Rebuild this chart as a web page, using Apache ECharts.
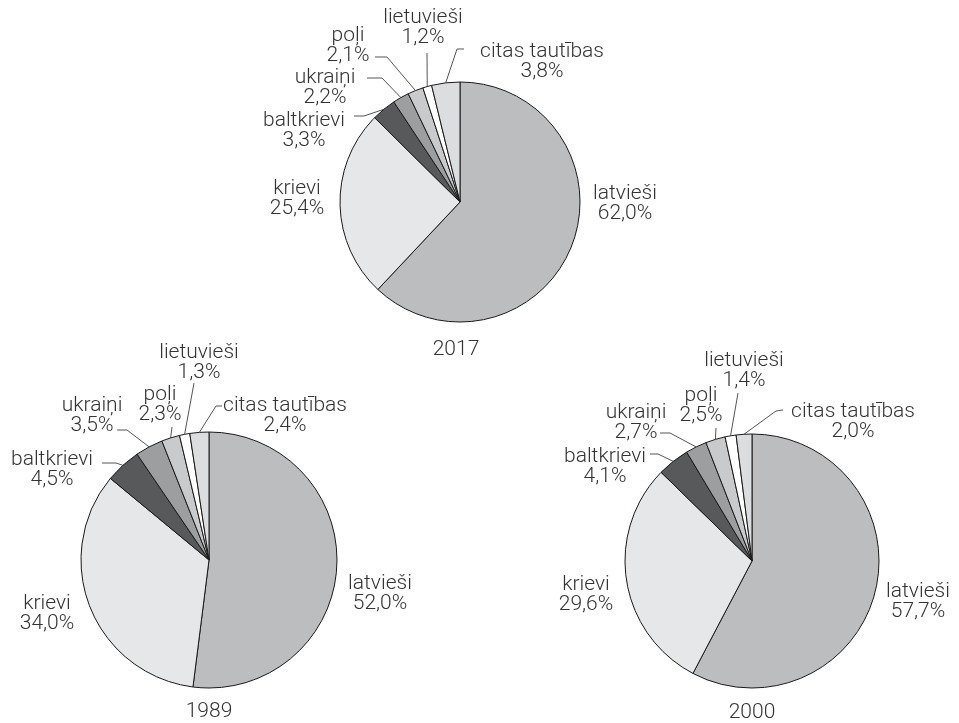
<!DOCTYPE html>
<html>
<head>
<meta charset="utf-8">
<script src="https://cdn.jsdelivr.net/npm/echarts@6/dist/echarts.min.js"></script>
<style>
  html, body { margin: 0; padding: 0; background: #fff; }
  #chart { width: 959px; height: 723px; }
</style>
</head>
<body>
<div id="chart"></div>
<script>
// data
var categories = ['latvieši', 'krievi', 'baltkrievi', 'ukraiņi', 'poļi', 'lietuvieši', 'citas tautības'];
var years = ['2017', '1989', '2000'];
var values2017 = [62.0, 25.4, 3.3, 2.2, 2.1, 1.2, 3.8];
var values1989 = [52.0, 34.0, 4.5, 3.5, 2.3, 1.3, 2.4];
var values2000 = [57.7, 29.6, 4.1, 2.7, 2.5, 1.4, 2.0];

var sliceColors = ['#bcbdbf', '#e6e7e8', '#58595b', '#9d9ea0', '#c9cacc', '#ffffff', '#dcdddf'];
var textColor = '#333333';
var fontFamily = 'Roboto, "Noto Sans", sans-serif';

// layout of each pie: centre, radius, label centres, leader ends [x, y, elbowX, elbowY]
var pieLayouts = [
  {
    values: values2017, center: [460, 202], radius: 120, yearPos: [456, 339],
    labels: [[625, 204], [297, 199], [304, 131], [325, 88], [348, 46], [423, 28], [542, 62]],
    leaders: [null, null, [354, 116, 364, 116], [367, 78, 382, 78], [375, 57, 387, 57], [427, 53, 427, 53], [464, 49, 457, 49]]
  },
  {
    values: values1989, center: [209, 560], radius: 128, yearPos: [209, 701],
    labels: [[380, 594], [47, 614], [52, 470], [92, 416], [160, 405], [199, 363], [285, 416]],
    leaders: [null, null, [102, 463, 116, 463], [117, 430, 127, 430], [172, 427, 172, 427], [194, 383, 194, 383], [222, 406, 216, 406]]
  },
  {
    values: values2000, center: [752, 561], radius: 127, yearPos: [752, 702],
    labels: [[918, 602], [586, 595], [605, 467], [636, 423], [701, 406], [744, 371], [853, 422]],
    leaders: [null, null, [650, 454, 658, 454], [660, 433, 670, 433], [716, 428, 716, 428], [738, 393, 738, 393], [783, 410, 776, 411]]
  }
];

var fmt = function (v) {
  return v.toFixed(1).replace('.', ',') + '%';
};

var chart = echarts.init(document.getElementById('chart'));

var series = pieLayouts.map(function (p) {
  return {
    type: 'pie',
    center: p.center,
    radius: p.radius,
    startAngle: 90,
    clockwise: true,
    avoidLabelOverlap: false,
    minShowLabelAngle: 0,
    silent: true,
    itemStyle: { borderColor: '#1a1a1a', borderWidth: 1 },
    label: {
      show: true,
      position: 'outside',
      color: textColor,
      fontFamily: fontFamily,
      fontWeight: 300,
      fontSize: 21,
      lineHeight: 20,
      formatter: function (params) {
        return params.name + '\n' + fmt(params.value);
      }
    },
    labelLine: {
      show: true,
      length: 6,
      length2: 6,
      lineStyle: { color: '#555555', width: 1 }
    },
    labelLayout: function (params) {
      var i = params.dataIndex;
      var out = {
        x: p.labels[i][0],
        y: p.labels[i][1],
        align: 'center',
        verticalAlign: 'middle'
      };
      var ld = p.leaders[i];
      if (ld && params.labelLinePoints) {
        var start = params.labelLinePoints[0];
        out.labelLinePoints = [start, [ld[2], ld[3]], [ld[0], ld[1]]];
      }
      return out;
    },
    data: categories.map(function (name, i) {
      return {
        name: name,
        value: p.values[i],
        itemStyle: { color: sliceColors[i] },
        labelLine: { show: i > 1 }
      };
    })
  };
});

var titles = pieLayouts.map(function (p, k) {
  return {
    text: years[k],
    left: p.yearPos[0],
    top: p.yearPos[1],
    textAlign: 'center',
    padding: 0,
    textStyle: { color: textColor, fontFamily: fontFamily, fontWeight: 300, fontSize: 21 }
  };
});

chart.setOption({
  animation: false,
  backgroundColor: '#ffffff',
  title: titles,
  series: series
});
</script>
</body>
</html>
